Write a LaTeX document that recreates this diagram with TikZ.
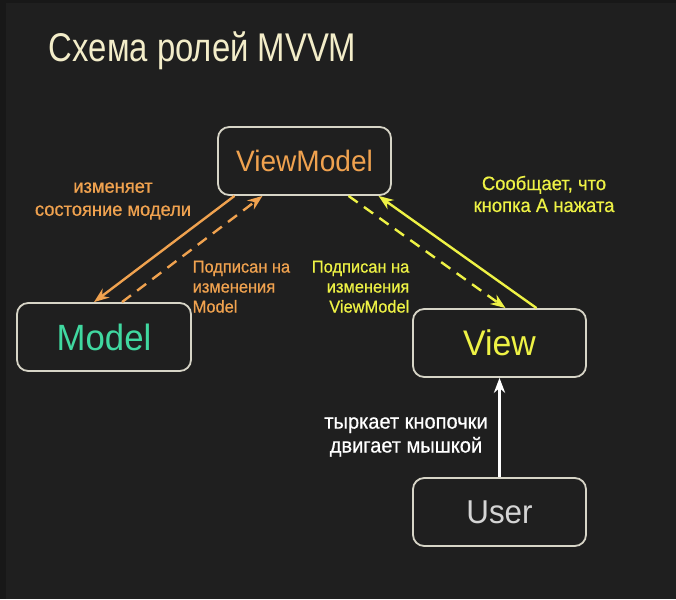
\documentclass[tikz,border=0pt]{standalone}
\usepackage{fontspec}
\setmainfont[FakeStretch=0.95]{Liberation Sans}
\newfontfamily\titlefont[FakeStretch=0.82]{Liberation Sans}
\newfontfamily\notefont[FakeStretch=0.95,FakeBold=0.6]{Liberation Sans}
\usepackage{tikz}
\usetikzlibrary{arrows.meta, positioning, calc}
\definecolor{bgdark}{HTML}{1F1F1F}
\definecolor{bgedge}{HTML}{181818}
\definecolor{boxline}{HTML}{D6D4C6}
\definecolor{titlecol}{HTML}{F3EDC9}
\definecolor{vmorange}{HTML}{F0A24F}
\definecolor{mgreen}{HTML}{40D8A0}
\definecolor{vyellow}{HTML}{EEF245}
\definecolor{ugray}{HTML}{D4D4D4}

\begin{document}
\begin{tikzpicture}[
    x=0.025cm, y=-0.025cm,
    role/.style={draw=boxline, line width=1.3pt, rounded corners=8pt, fill=bgdark,
        minimum width=173*0.025cm, minimum height=68*0.025cm, font=\fontsize{21}{24}\selectfont},
    note/.style={font=\notefont\fontsize{12.3}{14.2}\selectfont, inner sep=1pt},
    link/.style={line width=1.7pt, -{Stealth[scale=1.0]}},
    dashlink/.style={link, dash pattern=on 8pt off 5.5pt}
]
% Background
\fill[bgedge] (0,0) rectangle (676,599);
\fill[bgdark] (6,3) rectangle (676,599);
\useasboundingbox (0,0) rectangle (676,599);
\node[anchor=west, text=titlecol, font=\titlefont\fontsize{28.5}{32}\selectfont] (title) at (44,51) {Схема ролей MVVM};
% Nodes
\node[role, text=vmorange] (viewmodel) at (304.5,161) {ViewModel};
\node[role, text=mgreen, minimum width=174*0.025cm, font=\fontsize{26}{28}\selectfont] (model) at (104,337) {Model};
\node[role, text=vyellow, font=\fontsize{25.3}{28}\selectfont] (view) at (499.5,343) {View};
\node[role, text=ugray, font=\fontsize{23.5}{26}\selectfont] (user) at (499.5,512) {User};
% Edges
\draw[link, vmorange] ([xshift=-70*0.025cm]viewmodel.south) -- ([xshift=-10*0.025cm]model.north);
\draw[dashlink, vmorange] ([xshift=18*0.025cm]model.north) -- ([xshift=-42*0.025cm]viewmodel.south);
\draw[dashlink, vyellow] ([xshift=44*0.025cm]viewmodel.south) -- ([xshift=6*0.025cm]view.north);
\draw[link, vyellow] ([xshift=37*0.025cm]view.north) -- ([xshift=74*0.025cm]viewmodel.south);
\draw[link, white] (user.north) -- (view.south);
% Labels
\node[note, text=vmorange, align=center, font=\notefont\fontsize{13.7}{16.4}\selectfont] (changes) at (113,201) {изменяет\\состояние модели};
\node[note, text=vmorange, align=left, anchor=north west] (subm) at (191,259) {Подписан на\\изменения\\Model};
\node[note, text=vyellow, align=right, anchor=north east] (subvm) at (411,259) {Подписан на\\изменения\\ViewModel};
\node[note, text=vyellow, align=center, font=\notefont\fontsize{13.8}{15.6}\selectfont] (tells) at (544,194) {Сообщает, что\\кнопка А нажата};
\node[note, text=white, align=center, font=\notefont\fontsize{15}{17}\selectfont] (clicks) at (406,437) {тыркает кнопочки\\двигает мышкой};
\end{tikzpicture}
\end{document}
